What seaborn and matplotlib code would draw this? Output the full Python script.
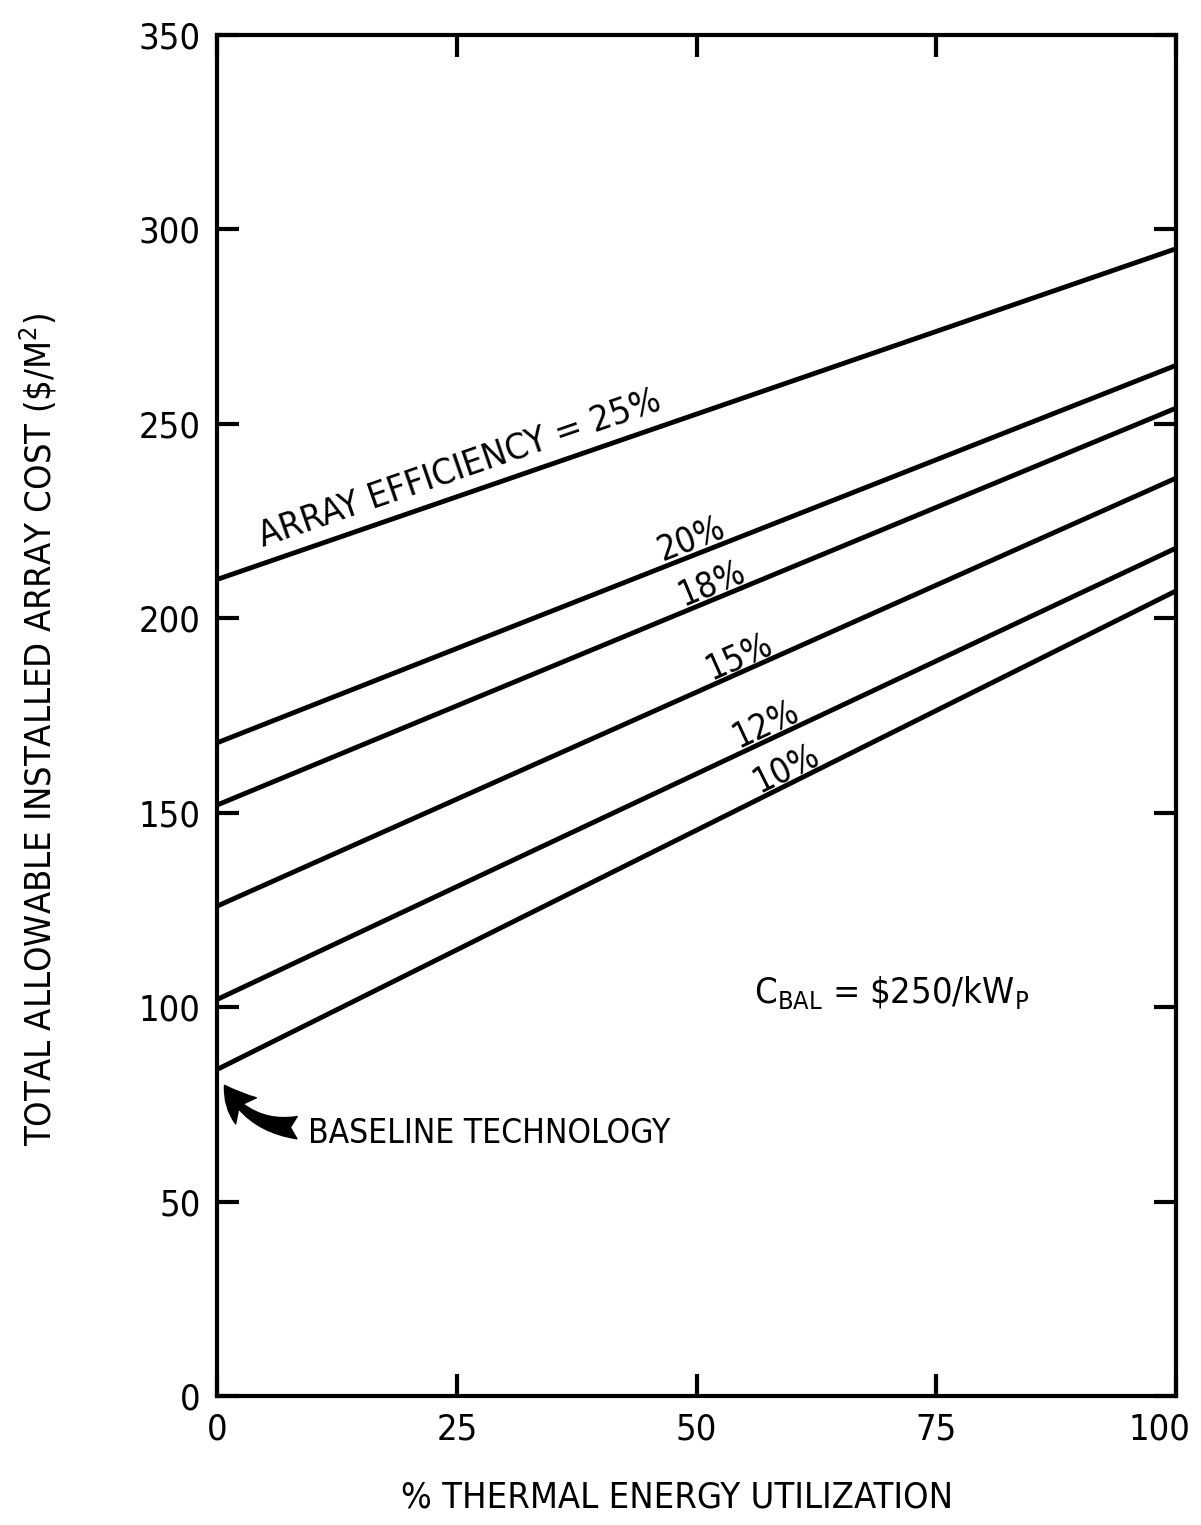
import numpy as np
import pandas as pd
import seaborn as sns
import matplotlib.pyplot as plt
from matplotlib.patches import FancyArrowPatch
from matplotlib.transforms import ScaledTranslation

# values
thermal_pct = [0, 100]
efficiency = ["25%", "20%", "18%", "15%", "12%", "10%"]
cost_at_0 = [210, 168, 152, 126, 102, 84]
cost_at_100 = [295, 265, 254, 236, 218, 207]

# where the percentage labels sit along each line (x in % thermal)
label_x = [None, 49.4, 51.6, 54.4, 57.2, 59.3]

rows = []
for eff, c0, c1 in zip(efficiency, cost_at_0, cost_at_100):
    rows.append({"thermal": thermal_pct[0], "cost": c0, "eff": eff})
    rows.append({"thermal": thermal_pct[1], "cost": c1, "eff": eff})
df = pd.DataFrame(rows)

sns.set_style("ticks")
plt.rcParams['font.family'] = ['DejaVu Sans Condensed', 'Liberation Sans Narrow', 'DejaVu Sans']
plt.rcParams['font.stretch'] = 'condensed'
plt.rcParams['text.color'] = 'black'
plt.rcParams['axes.labelcolor'] = 'black'
plt.rcParams['mathtext.fontset'] = 'custom'
plt.rcParams['mathtext.rm'] = 'DejaVu Sans'

fig = plt.figure(figsize=(12.01, 15.25), dpi=100)
ax = fig.add_axes([0.181, 0.0846, 0.798, 0.8925])

sns.lineplot(data=df, x="thermal", y="cost", hue="eff", palette=["black"] * 6,
             legend=False, linewidth=3.5, ax=ax, sort=False)

ax.set_xlim(0, 100)
ax.set_ylim(0, 350)
ax.set_xticks([0, 25, 50, 75, 100])
ax.set_yticks(np.arange(0, 351, 50))
ax.tick_params(direction="in", length=16, width=3, top=True, right=True,
               labelsize=26, pad=12, colors="black")
for s in ax.spines.values():
    s.set_linewidth(3)
    s.set_color("black")

# keep the "100" inside the picture
last = ax.xaxis.get_major_ticks()[-1].label1
last.set_transform(last.get_transform() + ScaledTranslation(-0.16, 0, fig.dpi_scale_trans))

ax.set_xlabel("% THERMAL ENERGY UTILIZATION", fontsize=26)
ax.xaxis.set_label_coords(0.48, -0.062)
ax.set_ylabel(r"TOTAL ALLOWABLE INSTALLED ARRAY COST (\$/M$^{\mathregular{2}}$)", fontsize=26)
ax.yaxis.set_label_coords(-0.165, 0.49)

# labels along the lines
def line_val(i, x):
    return cost_at_0[i] + (cost_at_100[i] - cost_at_0[i]) * x / 100.0

def line_angle(i):
    return np.degrees(np.arctan2(cost_at_100[i] - cost_at_0[i], 100))

ax.text(5, line_val(0, 5) + 2.5, "ARRAY EFFICIENCY = 25%", fontsize=26,
        rotation=line_angle(0), transform_rotates_text=True,
        rotation_mode="anchor", ha="left", va="bottom")
for i in range(1, len(efficiency)):
    ax.text(label_x[i], line_val(i, label_x[i]) + 4.5, efficiency[i], fontsize=25,
            rotation=line_angle(i), transform_rotates_text=True,
            rotation_mode="anchor", ha="center", va="center")

ax.text(56, 101, r"C$_{\mathregular{BAL}}$ = \$250/kW$_{\mathregular{P}}$", fontsize=26,
        ha="left", va="baseline")

ax.text(9.5, 65, "BASELINE TECHNOLOGY", fontsize=24, ha="left", va="baseline")
arrow = FancyArrowPatch((8.6, 69), (0.6, 80.5),
                        connectionstyle="arc3,rad=-0.3",
                        arrowstyle="fancy,head_length=1.5,head_width=1.5,tail_width=1.0",
                        mutation_scale=16, color="black")
ax.add_patch(arrow)

fig.savefig("out.png", dpi=100)
